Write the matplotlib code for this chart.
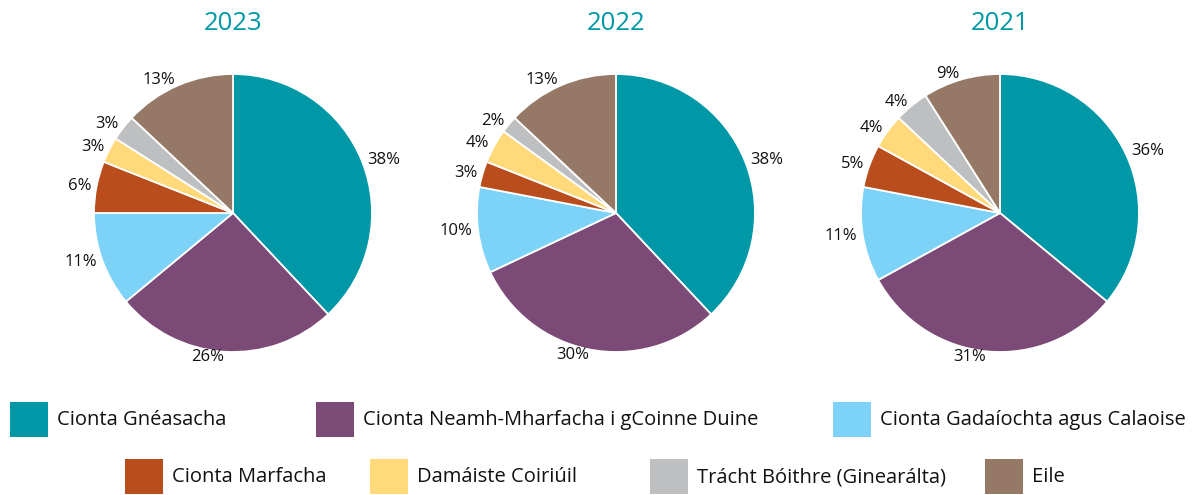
import matplotlib.pyplot as plt
from matplotlib.patches import Rectangle

plt.rcParams["font.family"] = ["Open Sans", "DejaVu Sans"]

categories = [
    "Cionta Gnéasacha",
    "Cionta Neamh-Mharfacha i gCoinne Duine",
    "Cionta Gadaíochta agus Calaoise",
    "Cionta Marfacha",
    "Damáiste Coiriúil",
    "Trácht Bóithre (Ginearálta)",
    "Eile",
]
colors = ["#0098A6", "#7B4A76", "#7DD3F7", "#B94E1C", "#FFD97A", "#BEBFC1", "#957966"]

years = ["2023", "2022", "2021"]
share_2023 = [38, 26, 11, 6, 3, 3, 13]
share_2022 = [38, 30, 10, 3, 4, 2, 13]
share_2021 = [36, 31, 11, 5, 4, 4, 9]
shares = [share_2023, share_2022, share_2021]

W, H = 1204, 495
fig = plt.figure(figsize=(W / 100, H / 100), dpi=100)

centers_x = [233, 616, 1000]
center_y = 213
radius = 139
half = 160

for year, vals, cx in zip(years, shares, centers_x):
    ax = fig.add_axes([(cx - half) / W, (H - center_y - half) / H, 2 * half / W, 2 * half / H])
    ax.pie(vals, colors=colors, startangle=90, counterclock=False,
           labels=[f"{v}%" for v in vals], labeldistance=1.04,
           wedgeprops=dict(edgecolor="white", linewidth=1.3),
           textprops=dict(fontsize=12, color="#111111"))
    lim = half / radius
    ax.set_xlim(-lim, lim)
    ax.set_ylim(-lim, lim)
    ax.set_aspect("equal")
    ax.axis("off")
    fig.text(cx / W, 1 - 23 / H, year, ha="center", va="center",
             fontsize=18.5, color="#0097A7")

# legend laid out by hand, two rows
legend_pos = [(10, 402), (316, 402), (833, 402),
              (125, 459), (370, 459), (650, 459), (985, 459)]
for (x0, y0), name, c in zip(legend_pos, categories, colors):
    fig.add_artist(Rectangle((x0 / W, 1 - (y0 + 35) / H), 38 / W, 35 / H,
                             transform=fig.transFigure, facecolor=c, edgecolor="none"))
    fig.text((x0 + 47) / W, 1 - (y0 + 18) / H, name, ha="left", va="center",
             fontsize=14.5, color="#111111")

fig.savefig("out.png", dpi=100)
